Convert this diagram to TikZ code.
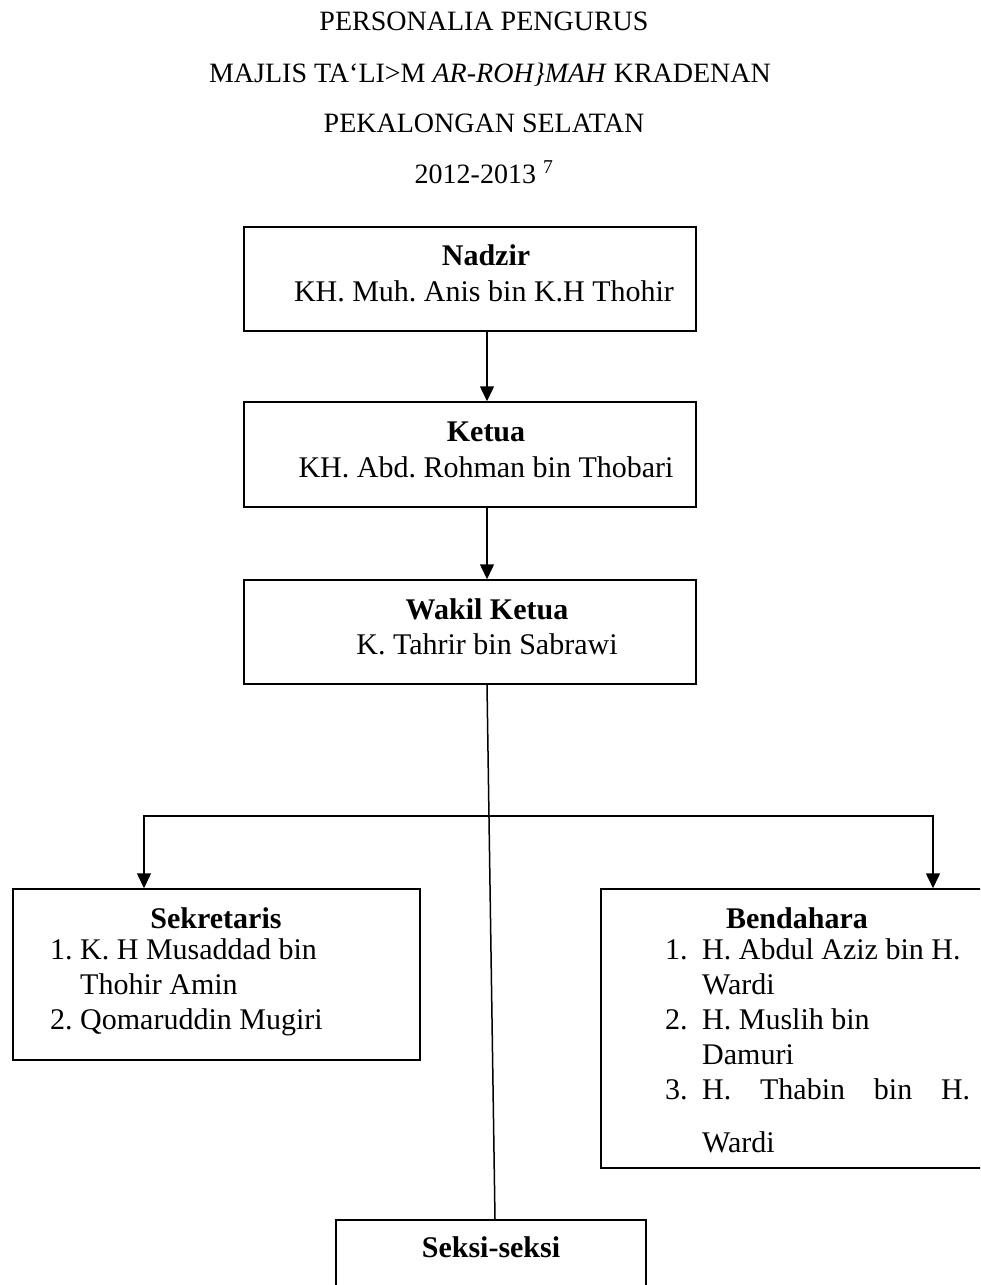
\documentclass[tikz,border=0pt]{standalone}
\usepackage{fontspec}
\setmainfont{Liberation Serif}
\usetikzlibrary{arrows.meta}
\frenchspacing
\newcommand{\boxfont}{\fontsize{30}{35}\selectfont\frenchspacing}
\newcommand{\titfont}{\fontsize{28}{34}\selectfont\frenchspacing}
\tikzset{
  orgbox/.style={draw, line width=1.5pt, inner sep=0pt},
  conn/.style={line width=1.5pt},
  arr/.style={line width=1.5pt, -{Triangle[length=15pt,width=14pt]}},
  arrboth/.style={line width=1.5pt, {Triangle[length=15pt,width=14pt]}-{Triangle[length=15pt,width=14pt]}},
  tit/.style={anchor=base, inner sep=0pt, font=\titfont},
  txt/.style={anchor=base, inner sep=0pt, font=\boxfont},
  txtl/.style={anchor=base west, inner sep=0pt, font=\boxfont},
}
\begin{document}
\begin{tikzpicture}[x=1pt,y=-1pt]
\useasboundingbox (0,0) rectangle (980,1285);
\begin{scope}
\clip (0,0) rectangle (980,1285);
% title
\node[tit] (t1) at (484,30) {PERSONALIA PENGURUS};
\node[tit] (t2) at (490,82) {MAJLIS TA‘LI>M \textit{AR-ROH\}MAH} KRADENAN};
\node[tit] (t3) at (484,132) {PEKALONGAN SELATAN};
\node[tit] (t4) at (484,183) {2012-2013 \textsuperscript{7}};
% boxes
\node[orgbox, minimum width=452pt, minimum height=104pt] (nadzir) at (470,279) {};
\node[orgbox, minimum width=452pt, minimum height=105pt] (ketua) at (470,454.5) {};
\node[orgbox, minimum width=452pt, minimum height=104pt] (wakil) at (470,632) {};
\node[orgbox, minimum width=407pt, minimum height=171pt] (sek) at (216.5,974.5) {};
\node[orgbox, minimum width=389pt, minimum height=279pt] (ben) at (795.5,1028.5) {};
\node[orgbox, minimum width=310pt, minimum height=90pt] (seksi) at (491,1265) {};
% box texts
\node[txt] (nadzirT) at (486,265) {\textbf{Nadzir}};
\node[txt] (nadzirN) at (484,301) {KH. Muh. Anis bin K.H Thohir};
\node[txt] (ketuaT) at (486,441) {\textbf{Ketua}};
\node[txt] (ketuaN) at (486,477) {KH. Abd. Rohman bin Thobari};
\node[txt] (wakilT) at (487,619) {\textbf{Wakil Ketua}};
\node[txt] (wakilN) at (487,654) {K. Tahrir bin Sabrawi};
\node[txt] (sekT) at (216,928) {\textbf{Sekretaris}};
\node[txtl] (sek1n) at (50,959) {1.};
\node[txtl] (sek1a) at (80,959) {K. H Musaddad bin};
\node[txtl] (sek1b) at (80,994) {Thohir Amin};
\node[txtl] (sek2n) at (50,1029) {2.};
\node[txtl] (sek2a) at (80,1029) {Qomaruddin Mugiri};
\node[txt] (benT) at (797,928) {\textbf{Bendahara}};
\node[txtl] (ben1n) at (665,959) {1.};
\node[txtl] (ben1a) at (702,959) {H. Abdul Aziz bin H.};
\node[txtl] (ben1b) at (702,994) {Wardi};
\node[txtl] (ben2n) at (665,1029) {2.};
\node[txtl] (ben2a) at (702,1029) {H. Muslih bin};
\node[txtl] (ben2b) at (702,1064) {Damuri};
\node[txtl] (ben3n) at (665,1099) {3.};
\node[txtl] (ben3a) at (702,1099) {\makebox[268pt][s]{H. Thabin bin H.}};
\node[txtl] (ben3b) at (702,1152) {Wardi};
\node[txt] (seksiT) at (491,1257) {\textbf{Seksi-seksi}};
% connectors
\draw[arr] (487,0 |- nadzir.south) -- (487,0 |- ketua.north);
\draw[arr] (487,0 |- ketua.south) -- (487,0 |- wakil.north);
\draw[conn] (487,0 |- wakil.south) -- (495,0 |- seksi.north);
\coordinate (hl) at (144,816);
\coordinate (hr) at (933,816);
\draw[arrboth] (hl |- sek.north) -- (hl) -- (hr) -- (hr |- ben.north);
\end{scope}
\end{tikzpicture}
\end{document}
